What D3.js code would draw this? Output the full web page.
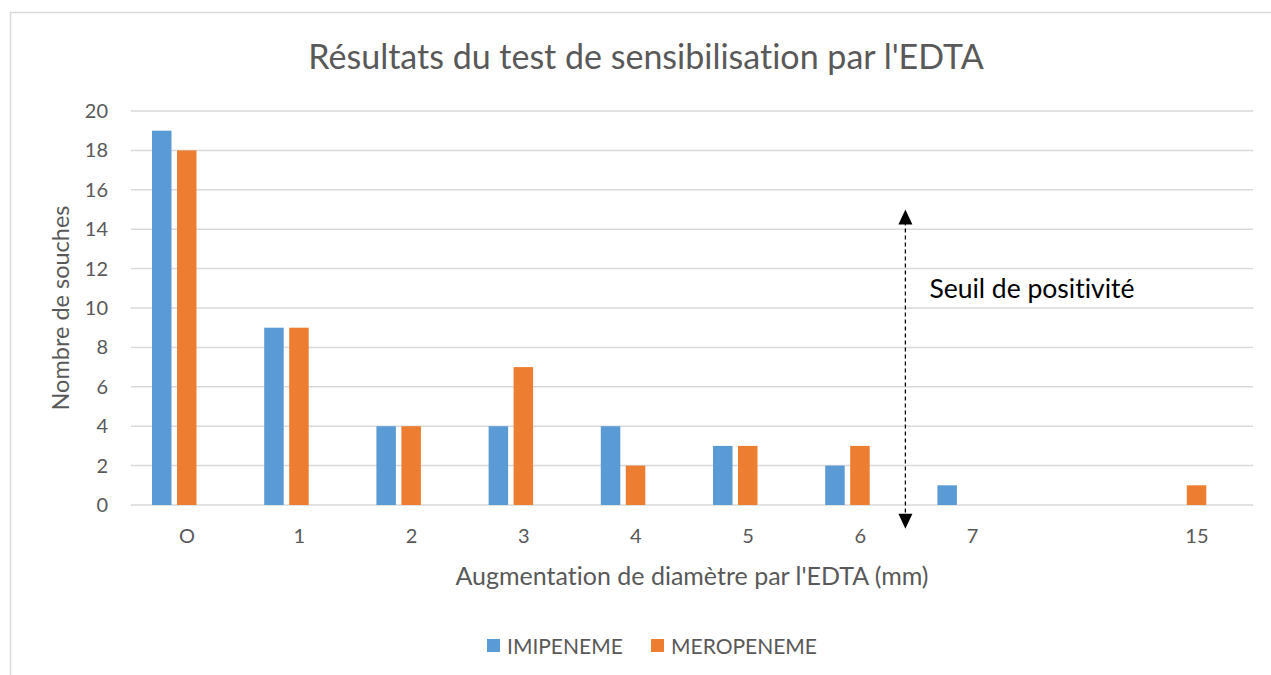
<!doctype html>
<html>
<head>
    <meta charset="utf-8">
    <style>
        body {
            margin: 0;
            background: white;
        }

        svg {
            display: block;
            font-family: Lato, "Open Sans", sans-serif;
            font-variant-ligatures: none;
        }

        .grid line {
            stroke: #d9d9d9;
            stroke-width: 1.5;
        }

        .tick-label {
            fill: #595959;
            font-size: 20px;
        }
    </style>
    <script src="https://d3js.org/d3.v7.min.js"></script>
</head>
<body>
<script>
    // values
    const categories = ['O', '1', '2', '3', '4', '5', '6', '7', '', '15']
    const imipeneme = [19, 9, 4, 4, 4, 3, 2, 1, 0, 0]
    const meropeneme = [18, 9, 4, 7, 2, 3, 3, 0, 0, 1]
    const seriesNames = ['IMIPENEME', 'MEROPENEME']
    const seriesColors = ['#5b9bd5', '#ed7d31']
    const yTicks = [0, 2, 4, 6, 8, 10, 12, 14, 16, 18, 20]

    const W = 1271, H = 675
    const plot = {left: 131, right: 1253, top: 111, bottom: 505}

    const svg = d3.select('body').append('svg')
        .attr('width', W)
        .attr('height', H)

    // chart frame
    svg.append('rect')
        .attr('x', 10.5).attr('y', 12.5)
        .attr('width', W + 20).attr('height', H + 20)
        .attr('fill', 'white')
        .attr('stroke', '#d9d9d9')
        .attr('stroke-width', 1.5)

    const x = d3.scaleBand()
        .domain(d3.range(categories.length))
        .range([plot.left, plot.right])

    // two bars inside each category, pushed to the left like in the excel chart
    const xs = d3.scaleBand()
        .domain(seriesNames)
        .range([21, 65.5])
        .paddingInner(0.22)

    const y = d3.scaleLinear()
        .domain([0, 20])
        .range([plot.bottom, plot.top])

    // gridlines
    svg.append('g').attr('class', 'grid')
        .selectAll('line').data(yTicks).enter()
        .append('line')
        .attr('x1', plot.left).attr('x2', plot.right)
        .attr('y1', d => y(d)).attr('y2', d => y(d))

    // y tick labels
    svg.append('g').selectAll('text').data(yTicks).enter()
        .append('text')
        .attr('class', 'tick-label')
        .attr('x', 108)
        .attr('y', d => y(d))
        .attr('dy', '0.35em')
        .attr('text-anchor', 'end')
        .text(d => d)

    // x tick labels
    svg.append('g').selectAll('text').data(categories).enter()
        .append('text')
        .attr('class', 'tick-label')
        .attr('x', (d, i) => x(i) + x.bandwidth() / 2)
        .attr('y', 543)
        .attr('text-anchor', 'middle')
        .text(d => d)

    // bars
    const series = [imipeneme, meropeneme]
    series.forEach(function (vals, s) {
        svg.append('g').selectAll('rect').data(vals).enter()
            .append('rect')
            .attr('x', (d, i) => x(i) + xs(seriesNames[s]))
            .attr('width', xs.bandwidth())
            .attr('y', d => y(d))
            .attr('height', d => y(0) - y(d))
            .attr('fill', seriesColors[s])
    })

    // title
    svg.append('text')
        .attr('x', 646).attr('y', 69)
        .attr('text-anchor', 'middle')
        .attr('fill', '#595959')
        .style('font-size', '34px')
        .text("Résultats du test de sensibilisation par l'EDTA")

    // axis titles
    svg.append('text')
        .attr('x', 692).attr('y', 585)
        .attr('text-anchor', 'middle')
        .attr('fill', '#595959')
        .style('font-size', '25px')
        .text("Augmentation de diamètre par l'EDTA (mm)")

    svg.append('text')
        .attr('transform', 'translate(69,308) rotate(-90)')
        .attr('text-anchor', 'middle')
        .attr('fill', '#595959')
        .style('font-size', '23.5px')
        .text('Nombre de souches')

    // threshold arrow between 6 and 7
    const ax = x(7) - 11
    const yTop = y(15), yBot = y(-1.2)
    svg.append('line')
        .attr('x1', ax).attr('x2', ax)
        .attr('y1', yTop + 12).attr('y2', yBot - 12)
        .attr('stroke', 'black')
        .attr('stroke-width', 1.3)
        .attr('stroke-dasharray', '4,3')
    svg.append('path')
        .attr('d', `M${ax},${yTop} L${ax - 7},${yTop + 15} L${ax + 7},${yTop + 15} Z`)
        .attr('fill', 'black')
    svg.append('path')
        .attr('d', `M${ax},${yBot} L${ax - 7},${yBot - 15} L${ax + 7},${yBot - 15} Z`)
        .attr('fill', 'black')

    svg.append('text')
        .attr('x', ax + 24).attr('y', 298)
        .attr('fill', 'black')
        .style('font-size', '26.5px')
        .text('Seuil de positivité')

    // legend
    const legendX = [487, 651]
    const legend = svg.append('g')
    seriesNames.forEach(function (name, i) {
        legend.append('rect')
            .attr('x', legendX[i]).attr('y', 639)
            .attr('width', 13).attr('height', 13)
            .attr('fill', seriesColors[i])
        legend.append('text')
            .attr('x', legendX[i] + 20).attr('y', 654)
            .attr('fill', '#595959')
            .style('font-size', '21px')
            .text(name)
    })
</script>
</body>
</html>
